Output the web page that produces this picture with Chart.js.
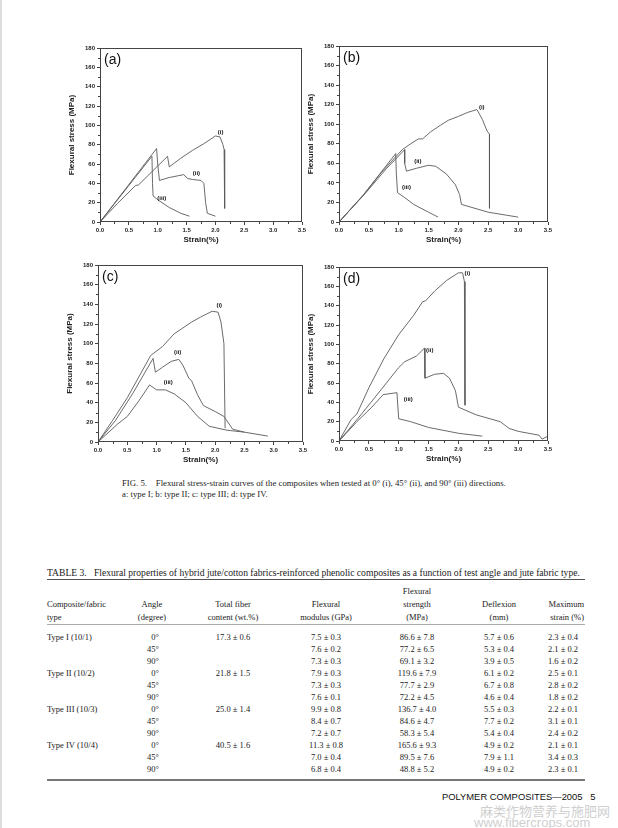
<!DOCTYPE html>
<html>
<head>
<meta charset="utf-8">
<script src="https://cdn.jsdelivr.net/npm/chart.js@4/dist/chart.umd.min.js"></script>
<style>
  body { margin: 0; background: #fff; }
  #page { position: relative; width: 618px; height: 828px; overflow: hidden; background: #fff; border-left: 2px solid #ddd; box-sizing: border-box; }
  canvas.panel { position: absolute; }
  .t { position: absolute; font-family: "Liberation Serif", "Times New Roman", serif; font-size: 8.5px; color: #222; white-space: nowrap; line-height: 1; }
  .c { transform: translateX(-50%); }
  .r { transform: translateX(-100%); }
  .rule { position: absolute; left: 45px; width: 538px; background: #555; }
  .foot { position: absolute; font-family: "Liberation Sans", Arial, sans-serif; font-size: 9.4px; color: #111; white-space: nowrap; }
  .wm { position: absolute; color: #cfcfcf; white-space: nowrap; font-size: 13px; line-height: 1; }
</style>
</head>
<body>
<div id="page">
  <canvas class="panel" id="chartA" width="247" height="207" style="left:63px;top:40px"></canvas>
  <canvas class="panel" id="chartB" width="254" height="209" style="left:302px;top:38px"></canvas>
  <canvas class="panel" id="chartC" width="250" height="210" style="left:61px;top:257px"></canvas>
  <canvas class="panel" id="chartD" width="254" height="207" style="left:302px;top:259px"></canvas>

  <div class="t" style="left:120px;top:479px;font-size:8.75px">FIG. 5.&nbsp;&nbsp;&nbsp; Flexural stress-strain curves of the composites when tested at 0° (i), 45° (ii), and 90° (iii) directions.</div>
  <div class="t" style="left:120px;top:490px;font-size:8.75px">a: type I; b: type II; c: type III; d: type IV.</div>

  <div class="t" style="left:45px;top:568px;font-size:9.6px">TABLE 3.&nbsp;&nbsp; Flexural properties of hybrid jute/cotton fabrics-reinforced phenolic composites as a function of test angle and jute fabric type.</div>
  <div class="rule" style="top:579px;height:1px"></div>
  <div id="table"></div>
  <div class="rule" style="top:624px;height:1px;background:#aaa"></div>
  <div class="rule" style="top:779px;height:2px;background:#777"></div>

  <div class="foot" style="left:440px;top:791px">POLYMER COMPOSITES—2005&nbsp;&nbsp;&nbsp;5</div>
  <div class="wm" style="left:478px;top:804px;font-family:'Noto Sans CJK SC',sans-serif">麻类作物营养与施肥网</div>
  <div class="wm" style="left:472px;top:816px;font-family:'Liberation Sans',Arial,sans-serif">www.fibercrops.com</div>
</div>

<script>
// Stress-strain curves, [strain %, stress MPa]
// (a) type I
const aCurveI = [[0,0],[0.3,19],[0.62,38],[0.66,38],[0.9,52],[1.17,68],[1.2,57],[1.4,66],[1.6,74],[1.8,81],[2.0,89],[2.08,88],[2.13,80],[2.15,75],[2.16,14]];
const aCurveII = [[0,0],[0.98,76],[1.0,60],[1.03,43],[1.2,46],[1.45,49],[1.52,45],[1.6,44],[1.75,43],[1.8,40],[1.83,20],[1.86,9],[2.0,6]];
const aCurveIII = [[0,0],[0.9,68],[0.91,40],[0.92,27],[1.0,23],[1.2,15],[1.4,9],[1.55,6]];
// (b) type II
const bCurveI = [[0,0],[0.4,27],[0.7,50],[1.06,74],[1.2,80],[1.33,85],[1.4,85],[1.53,92],[1.7,99],[1.83,104],[2.0,108],[2.15,112],[2.31,115],[2.4,105],[2.48,93],[2.52,90],[2.52,14]];
const bCurveII = [[0,0],[0.45,30],[0.8,55],[1.1,74],[1.1,60],[1.13,52],[1.3,55],[1.5,58],[1.62,57],[1.8,49],[1.95,38],[2.02,28],[2.05,18],[2.5,10],[2.8,7],[3.0,5]];
const bCurveIII = [[0,0],[0.4,27],[0.95,70],[0.96,50],[0.98,30],[1.1,25],[1.25,18],[1.5,10],[1.66,5]];
// (c) type III
const cCurveI = [[0,0],[0.25,22],[0.5,45],[0.9,88],[1.1,97],[1.3,110],[1.45,116],[1.6,122],[1.75,127],[1.95,133],[2.05,132],[2.1,122],[2.15,100],[2.17,14]];
const cCurveII = [[0,0],[0.3,22],[0.6,50],[0.94,85],[0.98,71],[1.1,76],[1.25,82],[1.38,84],[1.45,78],[1.55,65],[1.6,62],[1.7,48],[1.8,37],[2.0,31],[2.15,26],[2.3,13],[2.5,10],[2.9,6]];
const cCurveIII = [[0,0],[0.33,18],[0.5,26],[0.7,42],[0.88,58],[1.0,53],[1.15,53],[1.3,49],[1.5,40],[1.7,26],[1.9,16],[2.2,12],[2.5,10]];
// (d) type IV
const dCurveI = [[0,0],[0.2,22],[0.3,28],[0.5,55],[0.75,85],[1.0,110],[1.25,130],[1.4,144],[1.45,145],[1.6,155],[1.8,166],[2.0,174],[2.07,174],[2.1,165],[2.11,37]];
const dCurveII = [[0,0],[0.3,22],[0.6,45],[1.0,76],[1.1,82],[1.3,88],[1.43,96],[1.44,65],[1.6,69],[1.75,70],[1.85,65],[1.95,52],[2.0,35],[2.3,27],[2.7,20],[2.85,13],[3.0,10],[3.35,6],[3.4,2],[3.5,5]];
const dCurveIII = [[0,0],[0.3,20],[0.55,35],[0.74,48],[0.97,50],[1.0,23],[1.2,20],[1.5,14],[2.0,8],[2.4,5]];

// curve tags, [strain, stress, text]
const aNotes = [[2.09,93,"(i)"],[1.67,50,"(ii)"],[1.07,24,"(iii)"]];
const bNotes = [[2.39,117,"(i)"],[1.32,62,"(ii)"],[1.13,35,"(iii)"]];
const cNotes = [[2.07,139,"(i)"],[1.36,91,"(ii)"],[1.2,61,"(iii)"]];
const dNotes = [[2.15,173,"(i)"],[1.52,94,"(ii)"],[1.16,43,"(iii)"]];

const strainTicks = [0, 0.5, 1, 1.5, 2, 2.5, 3, 3.5];
const stressTicks = [0, 20, 40, 60, 80, 100, 120, 140, 160, 180];

// Table 3 rows
const tableTypes = ["Type I (10/1)", "", "", "Type II (10/2)", "", "", "Type III (10/3)", "", "", "Type IV (10/4)", "", ""];
const tableAngles = ["0°","45°","90°","0°","45°","90°","0°","45°","90°","0°","45°","90°"];
const tableFiber = ["17.3 ± 0.6","","","21.8 ± 1.5","","","25.0 ± 1.4","","","40.5 ± 1.6","",""];
const tableModulus = ["7.5 ± 0.3","7.6 ± 0.2","7.3 ± 0.3","7.9 ± 0.3","7.3 ± 0.3","7.6 ± 0.1","9.9 ± 0.8","8.4 ± 0.7","7.2 ± 0.7","11.3 ± 0.8","7.0 ± 0.4","6.8 ± 0.4"];
const tableStrength = ["86.6 ± 7.8","77.2 ± 6.5","69.1 ± 3.2","119.6 ± 7.9","77.7 ± 2.9","72.2 ± 4.5","136.7 ± 4.0","84.6 ± 4.7","58.3 ± 5.4","165.6 ± 9.3","89.5 ± 7.6","48.8 ± 5.2"];
const tableDeflexion = ["5.7 ± 0.6","5.3 ± 0.4","3.9 ± 0.5","6.1 ± 0.2","6.7 ± 0.8","4.6 ± 0.4","5.5 ± 0.3","7.7 ± 0.2","5.4 ± 0.4","4.9 ± 0.2","7.9 ± 1.1","4.9 ± 0.2"];
const tableMaxStrain = ["2.3 ± 0.4","2.1 ± 0.2","1.6 ± 0.2","2.5 ± 0.1","2.8 ± 0.2","1.8 ± 0.2","2.2 ± 0.1","3.1 ± 0.1","2.4 ± 0.2","2.1 ± 0.1","3.4 ± 0.3","2.3 ± 0.1"];

const sansFont = '"Liberation Sans", Arial, sans-serif';
const lineColor = "#5a5a5a";

// frame, minor ticks, panel letter and curve tags
const framePlugin = {
  id: "frame",
  afterDraw(chart, args, opts) {
    const { ctx, chartArea: area, scales: { x, y } } = chart;
    ctx.save();
    ctx.strokeStyle = "#444";
    ctx.lineWidth = 1;
    ctx.strokeRect(area.left + 0.5, area.top + 0.5, area.width - 1, area.height - 1);

    // minor ticks
    ctx.beginPath();
    for (let v = 0.25; v < 3.5; v += 0.5) {
      const px = Math.round(x.getPixelForValue(v)) + 0.5;
      ctx.moveTo(px, area.bottom);
      ctx.lineTo(px, area.bottom + 2);
    }
    for (let v = 10; v < 180; v += 20) {
      const py = Math.round(y.getPixelForValue(v)) + 0.5;
      ctx.moveTo(area.left, py);
      ctx.lineTo(area.left - 2, py);
    }
    ctx.stroke();

    ctx.fillStyle = "#111";
    ctx.textBaseline = "top";
    ctx.font = "14px " + sansFont;
    ctx.fillText(opts.tag, area.left + 4, area.top + 5);

    ctx.font = "bold 6px " + sansFont;
    ctx.textAlign = "center";
    ctx.textBaseline = "middle";
    opts.notes.forEach(([sx, sy, text]) => {
      ctx.fillText(text, x.getPixelForValue(sx), y.getPixelForValue(sy));
    });
    ctx.restore();
  },
};

function toPoints(pairs) {
  return pairs.map(([x, y]) => ({ x: x, y: y }));
}

function makePanel(id, tag, curves, notes) {
  const ctx = document.getElementById(id);
  return new Chart(ctx, {
    type: "scatter",
    data: {
      datasets: curves.map((c) => ({
        data: toPoints(c),
        showLine: true,
        borderColor: lineColor,
        borderWidth: 0.9,
        pointRadius: 0,
        tension: 0,
      })),
    },
    options: {
      responsive: false,
      animation: false,
      events: [],
      layout: { padding: { top: 8, right: 10, left: 0, bottom: 0 } },
      plugins: {
        legend: { display: false },
        tooltip: { enabled: false },
        frame: { tag: tag, notes: notes },
      },
      scales: {
        x: {
          type: "linear",
          min: 0,
          max: 3.5,
          afterBuildTicks: (scale) => {
            scale.ticks = strainTicks.map((v) => ({ value: v }));
          },
          afterFit: (scale) => { scale.height = 25; },
          ticks: {
            color: "#222",
            padding: 2,
            maxRotation: 0,
            font: { family: sansFont, size: 6, weight: "bold" },
            callback: (v) => Number(v).toFixed(1),
          },
          grid: { drawOnChartArea: false, tickLength: 3, color: "#444" },
          border: { display: false },
          title: {
            display: true,
            text: "Strain(%)",
            color: "#222",
            padding: { top: 0, bottom: 2 },
            font: { family: sansFont, size: 8, weight: "bold" },
          },
        },
        y: {
          type: "linear",
          min: 0,
          max: 180,
          afterBuildTicks: (scale) => {
            scale.ticks = stressTicks.map((v) => ({ value: v }));
          },
          afterFit: (scale) => { scale.width = 35; },
          ticks: {
            color: "#222",
            padding: 2,
            font: { family: sansFont, size: 6, weight: "bold" },
          },
          grid: { drawOnChartArea: false, tickLength: 3, color: "#444" },
          border: { display: false },
          title: {
            display: true,
            text: "Flexural stress (MPa)",
            color: "#222",
            padding: { top: 2, bottom: 0 },
            font: { family: sansFont, size: 8, weight: "bold" },
          },
        },
      },
    },
    plugins: [framePlugin],
  });
}

makePanel("chartA", "(a)", [aCurveI, aCurveII, aCurveIII], aNotes);
makePanel("chartB", "(b)", [bCurveI, bCurveII, bCurveIII], bNotes);
makePanel("chartC", "(c)", [cCurveI, cCurveII, cCurveIII], cNotes);
makePanel("chartD", "(d)", [dCurveI, dCurveII, dCurveIII], dNotes);

// Table 3 layout
function addText(parent, text, x, y, align) {
  const el = document.createElement("div");
  el.className = "t" + (align === "c" ? " c" : align === "r" ? " r" : "");
  el.style.left = x + "px";
  el.style.top = y + "px";
  el.textContent = text;
  parent.appendChild(el);
}

const table = document.getElementById("table");
// header
addText(table, "Composite/fabric", 45, 600, "l");
addText(table, "type", 45, 613, "l");
addText(table, "Angle", 150, 600, "c");
addText(table, "(degree)", 150, 613, "c");
addText(table, "Total fiber", 231, 600, "c");
addText(table, "content (wt.%)", 231, 613, "c");
addText(table, "Flexural", 324, 600, "c");
addText(table, "modulus (GPa)", 324, 613, "c");
addText(table, "Flexural", 415, 587, "c");
addText(table, "strength", 415, 600, "c");
addText(table, "(MPa)", 415, 613, "c");
addText(table, "Deflexion", 497, 600, "c");
addText(table, "(mm)", 497, 613, "c");
addText(table, "Maximum", 582, 600, "r");
addText(table, "strain (%)", 582, 613, "r");

tableAngles.forEach((angle, i) => {
  const y = 633 + i * 12;
  if (tableTypes[i]) addText(table, tableTypes[i], 45, y, "l");
  addText(table, angle, 157, y, "r");
  if (tableFiber[i]) addText(table, tableFiber[i], 231, y, "c");
  addText(table, tableModulus[i], 324, y, "c");
  addText(table, tableStrength[i], 415, y, "c");
  addText(table, tableDeflexion[i], 497, y, "c");
  addText(table, tableMaxStrain[i], 561, y, "c");
});
</script>
</body>
</html>
